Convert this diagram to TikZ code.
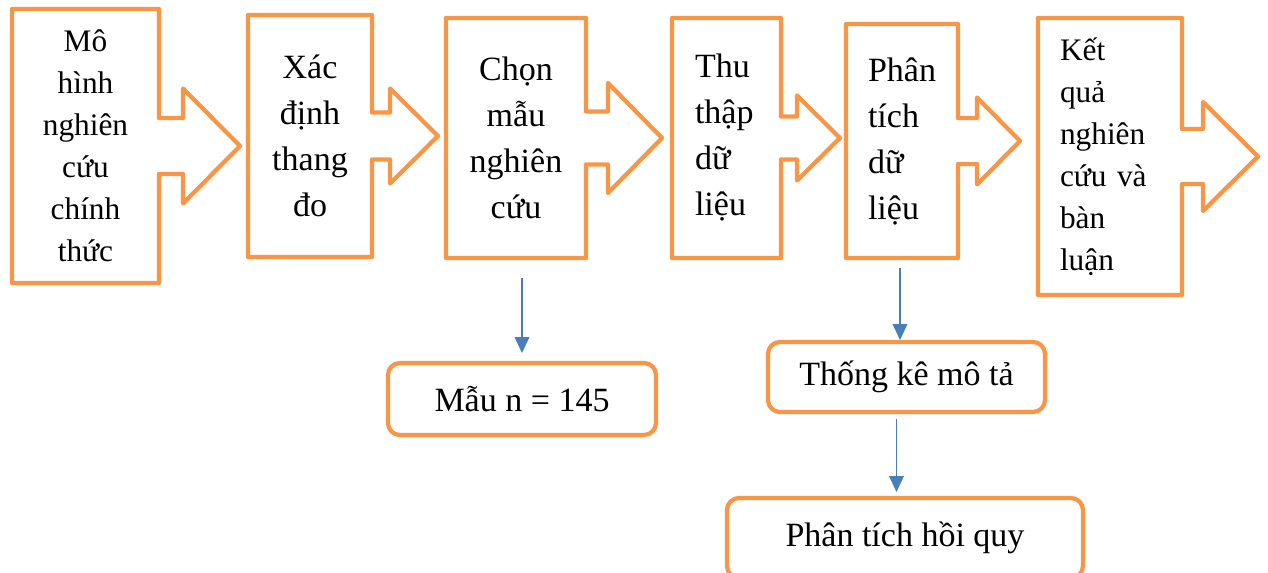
\documentclass[tikz,border=0pt]{standalone}
\usepackage{fontspec}
\setmainfont{Liberation Serif}
\usetikzlibrary{calc,arrows.meta}

\definecolor{boxorange}{HTML}{F79646}
\definecolor{linkblue}{HTML}{4A7EBB}

% outline of a step box with its arrow to the right
% #1 node, #2 neck half, #3 neck length, #4 head half, #5 head length
\newcommand{\stepoutline}[5]{%
  \draw[outline] (#1.north west) -- (#1.north east) -- ($(#1.east)+(0,-#2)$)
    -- ++(#3,0) -- ++(0,{#2-#4}) -- ++(#5,#4) -- ++(-#5,#4) -- ++(0,{#2-#4})
    -- ++(-#3,0) -- (#1.south east) -- (#1.south west) -- cycle;}

\begin{document}
\begin{tikzpicture}[
  x=0.75pt,y=-0.75pt,
  outline/.style={draw=boxorange,line width=3.2pt,line join=round},
  stepbox/.style={inner sep=0pt,outer sep=0pt,align=center},
  bigtext/.style={font=\fontsize{25.5}{34.5}\selectfont},
  smalltext/.style={font=\fontsize{23.5}{31.5}\selectfont},
  result/.style={draw=boxorange,line width=3.2pt,rounded corners=9pt,inner sep=0pt,outer sep=0pt,font=\fontsize{25.5}{30}\selectfont},
  link/.style={draw=linkblue,line width=1.1pt,-{Triangle[length=12pt,width=11pt]}}
]
\useasboundingbox (0,0) rectangle (1268,572);
\clip (0,0) rectangle (1268,572);

\node[stepbox,smalltext,minimum width=110.25pt,minimum height=205.5pt] (model) at (85.5,146) {Mô\\hình\\nghiên\\cứu\\chính\\thức};
\node[stepbox,bigtext,minimum width=93pt,minimum height=181.5pt] (thang) at (310,136) {Xác\\định\\thang\\đo};
\node[stepbox,bigtext,minimum width=105pt,minimum height=180pt] (chon) at (516,138) {Chọn\\mẫu\\nghiên\\cứu};
\node[stepbox,bigtext,align=left,text width=47.25pt,minimum width=81.75pt,minimum height=180pt] (thu) at (726.5,138) {Thu\\thập\\dữ\\liệu};
\node[stepbox,bigtext,align=left,text width=51pt,minimum width=84pt,minimum height=175.5pt] (phan) at (902,141) {Phân\\tích\\dữ\\liệu};
\node[stepbox,smalltext,align=left,text width=75pt,minimum width=108pt,minimum height=207.75pt] (ketqua) at (1110,156.5) {Kết\\quả\\nghiên\\cứu và\\bàn\\luận};

\stepoutline{model}{28}{24}{57.5}{57}
\stepoutline{thang}{23.5}{18}{47.5}{48}
\stepoutline{chon}{26.5}{22}{55}{54}
\stepoutline{thu}{21.5}{16}{42.5}{43}
\stepoutline{phan}{23}{19}{43.5}{43}
\stepoutline{ketqua}{27.5}{21}{54.5}{55}

\node[result,minimum width=201pt,minimum height=54pt] (mau) at (522,399) {Mẫu n = 145};
\node[result,minimum width=207.75pt,minimum height=52.5pt] (thongke) at (906.5,377) {Thống kê mô tả};
\node[result,minimum width=267pt,minimum height=60pt] (hoiquy) at (905,538) {Phân tích hồi quy};

\draw[link,shorten <=15pt,shorten >=7.5pt] (chon.south -| mau.north) -- (mau.north);
\draw[link,shorten <=7.5pt,shorten >=1.5pt] ([xshift=-1.5pt]phan.south) -- ([xshift=-1.5pt]phan.south |- thongke.north);
\draw[link,shorten <=5pt,shorten >=4.5pt] ([xshift=-7.5pt]thongke.south) -- ([xshift=-7.5pt]thongke.south |- hoiquy.north);

\end{tikzpicture}
\end{document}
